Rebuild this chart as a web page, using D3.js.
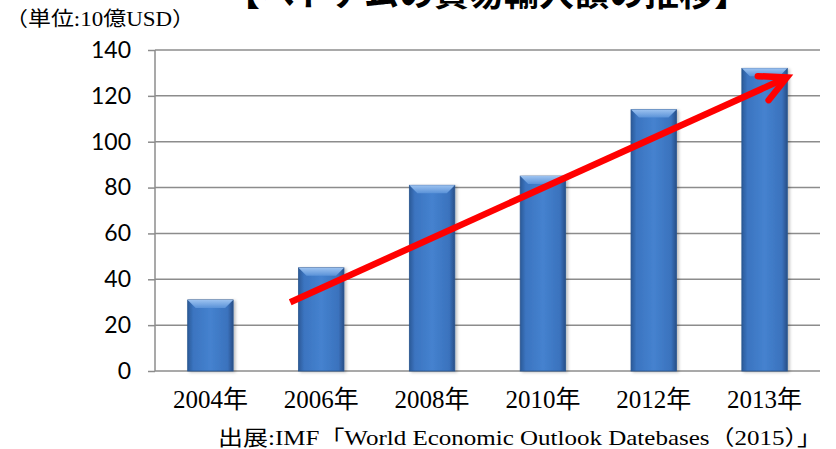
<!DOCTYPE html>
<html>
<head>
<meta charset="utf-8">
<script src="https://cdn.jsdelivr.net/npm/d3@7"></script>
<style>
  body { margin: 0; background: #fff; }
  svg { display: block; }
</style>
</head>
<body>
<div id="chart"></div>
<script>
// data
const years = ["2004年", "2006年", "2008年", "2010年", "2012年", "2013年"];
const imports = [31, 45, 81, 85, 114, 132];
const yTicks = [0, 20, 40, 60, 80, 100, 120, 140];
// trend arrow, in chart units (category + shift in band steps, value)
const arrowFrom = { cat: "2006年", shift: -0.28, value: 30 };
const arrowTo = { cat: "2013年", shift: 0.2, value: 128 };

const title = "【ベトナムの貿易輸入額の推移】";
const unitLabel = "（単位:10億USD）";
const source = "出展:IMF「World Economic Outlook Datebases（2015）」";

const width = 836;
const height = 449;
const margin = { top: 50, right: 16, bottom: 78, left: 155 };
const plotW = width - margin.left - margin.right;
const plotH = height - margin.top - margin.bottom;

const serif = "'Liberation Serif', 'Noto Sans CJK JP', serif";
const cjk = "'Noto Sans CJK JP', sans-serif";

const svg = d3.select("#chart")
    .append("svg")
    .attr("width", width)
    .attr("height", height);

const defs = svg.append("defs");

// bar body: darker edges, lighter middle
const bodyGrad = defs.append("linearGradient")
    .attr("id", "barBody")
    .attr("x1", "0").attr("x2", "1").attr("y1", "0").attr("y2", "0");
bodyGrad.append("stop").attr("offset", "0").attr("stop-color", "#2b5a98");
bodyGrad.append("stop").attr("offset", "0.12").attr("stop-color", "#3b74c0");
bodyGrad.append("stop").attr("offset", "0.5").attr("stop-color", "#4582cf");
bodyGrad.append("stop").attr("offset", "0.88").attr("stop-color", "#3a72bd");
bodyGrad.append("stop").attr("offset", "1").attr("stop-color", "#284f88");

const topGrad = defs.append("linearGradient")
    .attr("id", "barTop")
    .attr("x1", "0").attr("x2", "0").attr("y1", "0").attr("y2", "1");
topGrad.append("stop").attr("offset", "0").attr("stop-color", "#9cc2f0");
topGrad.append("stop").attr("offset", "1").attr("stop-color", "#5a92d8");

const shadow = defs.append("filter")
    .attr("id", "shadow")
    .attr("x", "-20%").attr("y", "-10%").attr("width", "150%").attr("height", "130%");
shadow.append("feDropShadow")
    .attr("dx", 2).attr("dy", 1).attr("stdDeviation", 1.5)
    .attr("flood-color", "#000").attr("flood-opacity", 0.25);

const plot = svg.append("g")
    .attr("transform", `translate(${margin.left},${margin.top})`);

const x = d3.scaleBand()
    .domain(years)
    .range([0, plotW])
    .paddingInner(0.59)
    .paddingOuter(0.295);

const y = d3.scaleLinear()
    .domain([0, 140])
    .range([plotH, 0]);

// gridlines
plot.append("g")
    .selectAll("line")
    .data(yTicks)
    .join("line")
    .attr("x1", 0)
    .attr("x2", plotW)
    .attr("y1", d => y(d))
    .attr("y2", d => y(d))
    .attr("stroke", "#8c8c8c")
    .attr("stroke-width", 1.5);

// y axis
const yAxis = d3.axisLeft(y).tickValues(yTicks).tickSize(7).tickPadding(17);
const yG = plot.append("g").call(yAxis);
yG.select(".domain").remove();
yG.selectAll(".tick line").attr("stroke", "#8c8c8c").attr("stroke-width", 1.5);
yG.selectAll(".tick text")
    .attr("fill", "#000")
    .style("font-family", "Lato, 'Open Sans', sans-serif")
    .style("font-size", "23px");
plot.append("line")
    .attr("x1", 0).attr("x2", 0)
    .attr("y1", y(140)).attr("y2", y(0))
    .attr("stroke", "#8c8c8c")
    .attr("stroke-width", 1.5);

// bars
const bev = 8;
const bars = plot.append("g")
    .selectAll("g")
    .data(years.map((c, i) => ({ cat: c, value: imports[i] })))
    .join("g")
    .attr("filter", "url(#shadow)");

bars.append("rect")
    .attr("x", d => x(d.cat))
    .attr("y", d => y(d.value))
    .attr("width", x.bandwidth())
    .attr("height", d => y(0) - y(d.value))
    .attr("fill", "url(#barBody)")
    .attr("stroke", "#2a558f")
    .attr("stroke-width", 0.8);

bars.append("path")
    .attr("d", d => {
        const x0 = x(d.cat), x1 = x0 + x.bandwidth(), y0 = y(d.value);
        return `M${x0},${y0}L${x1},${y0}L${x1 - bev},${y0 + bev}L${x0 + bev},${y0 + bev}Z`;
    })
    .attr("fill", "url(#barTop)");

// x labels
plot.append("g")
    .selectAll("text")
    .data(years)
    .join("text")
    .attr("x", d => x(d) + x.bandwidth() / 2)
    .attr("y", plotH + 37)
    .attr("text-anchor", "middle")
    .style("font-family", serif)
    .style("font-size", "25px")
    .text(d => d);

// trend arrow
const px = p => x(p.cat) + x.bandwidth() / 2 + p.shift * x.step();
const py = p => y(p.value);
const ax0 = px(arrowFrom), ay0 = py(arrowFrom);
const ax1 = px(arrowTo), ay1 = py(arrowTo);
const ang = Math.atan2(ay0 - ay1, ax0 - ax1);
const armLen = 29;
const armAng = 27 * Math.PI / 180;
const arrow = plot.append("g")
    .attr("stroke", "#ff0000")
    .attr("stroke-width", 6.5)
    .attr("stroke-linecap", "round")
    .attr("fill", "none");
arrow.append("line")
    .attr("x1", ax0).attr("y1", ay0)
    .attr("x2", ax1).attr("y2", ay1)
    .attr("stroke-linecap", "butt");
arrow.append("path")
    .attr("stroke-linejoin", "miter")
    .attr("d", `M${ax1 + armLen * Math.cos(ang + armAng)},${ay1 + armLen * Math.sin(ang + armAng)}` +
        `L${ax1},${ay1}` +
        `L${ax1 + armLen * Math.cos(ang - armAng)},${ay1 + armLen * Math.sin(ang - armAng)}`);

// title (cut at the top edge in the original)
svg.append("text")
    .attr("x", 487)
    .attr("y", 6)
    .attr("text-anchor", "middle")
    .style("font-family", cjk)
    .style("font-weight", "bold")
    .style("font-size", "35px")
    .text(title);

svg.append("text")
    .attr("x", 5)
    .attr("y", 26)
    .attr("textLength", 190)
    .attr("lengthAdjust", "spacingAndGlyphs")
    .style("font-family", serif)
    .style("font-size", "20px")
    .text(unitLabel);

svg.append("text")
    .attr("x", 218)
    .attr("y", 445)
    .attr("textLength", 604)
    .attr("lengthAdjust", "spacingAndGlyphs")
    .style("font-family", serif)
    .style("font-size", "21px")
    .text(source);
</script>
</body>
</html>
